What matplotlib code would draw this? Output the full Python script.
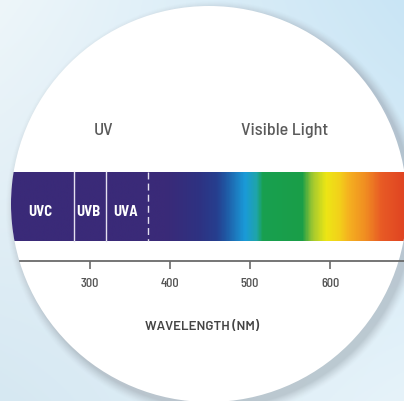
import numpy as np
import matplotlib
matplotlib.use("Agg")
import matplotlib.pyplot as plt
from matplotlib.colors import LinearSegmentedColormap, to_rgb
from matplotlib.patches import Ellipse

# ---- data ----
spectrum_nm = [187, 395, 437, 459, 471, 494, 509, 516, 566, 579, 596, 612, 625, 646, 666, 693]
spectrum_colors = ['#3a2a78', '#3a2a78', '#2e3282', '#263f8f', '#1f5aa5', '#1a9ad8',
                   '#1fa5a8', '#18a050', '#1a9e48', '#a0c830', '#ede615', '#f2d21a',
                   '#f5b020', '#f08c22', '#e85a25', '#e04522']
band_bounds = [280, 320]
uva_limit = 372
band_names = ['UVC', 'UVB', 'UVA']
band_label_nm = [238, 298, 344]
tick_nm = [300, 400, 500, 600]
region_titles = ['UV', 'Visible Light']
region_title_nm = [317, 543]

W, H = 404, 402
NM0, NM1 = 187.5, 692.5
px = (NM1 - NM0) / W  # nm per pixel
COND = ['Barlow Semi Condensed', 'DejaVu Sans']
NARROW = ['Barlow Condensed', 'DejaVu Sans']

fig = plt.figure(figsize=(W / 100, H / 100), dpi=100)

# background
bg = fig.add_axes([0, 0, 1, 1])
bg.set_xlim(0, W)
bg.set_ylim(H, 0)
bg.axis('off')
yy, xx = np.mgrid[0:1:200j, 0:1:200j]
tl, tr = np.array(to_rgb('#eef6fa')), np.array(to_rgb('#c9e5f5'))
bl, br = np.array(to_rgb('#d6e8f2')), np.array(to_rgb('#e6f3fa'))
img = ((1 - xx)[..., None] * (1 - yy)[..., None] * tl + xx[..., None] * (1 - yy)[..., None] * tr
       + (1 - xx)[..., None] * yy[..., None] * bl + xx[..., None] * yy[..., None] * br)
bg.imshow(img, extent=(0, W, H, 0), aspect='auto', zorder=0)

# main axes in wavelength units
ax = fig.add_axes([0, 0, 1, 1], facecolor='none')
ax.set_xlim(NM0, NM1)
ax.set_ylim(H, 0)
ax.set_axisbelow(False)

cx_px, cy_px, r_px = 209, 205, 198
cx = NM0 + cx_px * px
# soft shadow
for k, a in zip(range(10, 0, -1), np.linspace(0.015, 0.06, 10)):
    ax.add_patch(Ellipse((cx + 5 * px, cy_px + 5), 2 * (r_px + k) * px, 2 * (r_px + k),
                         facecolor='#7a8088', edgecolor='none', alpha=a, zorder=0.5))
circle = Ellipse((cx, cy_px), 2 * r_px * px, 2 * r_px, facecolor='white', edgecolor='none', zorder=1)
ax.add_patch(circle)

# spectrum bar
pos = [(v - spectrum_nm[0]) / (spectrum_nm[-1] - spectrum_nm[0]) for v in spectrum_nm]
cmap = LinearSegmentedColormap.from_list('spec', list(zip(pos, spectrum_colors)))
grad = np.linspace(spectrum_nm[0], spectrum_nm[-1], 600).reshape(1, -1)
im = ax.imshow(grad, extent=(spectrum_nm[0], spectrum_nm[-1], 242, 173), aspect='auto',
               cmap=cmap, vmin=spectrum_nm[0], vmax=spectrum_nm[-1], zorder=3,
               interpolation='bilinear')
im.set_clip_path(circle)

for b in band_bounds:
    ax.plot([b, b], [173, 242], color='#e4e0f0', lw=1.0, zorder=4)
ax.plot([uva_limit, uva_limit], [173, 242], color='#e4e0f0', lw=1.0, ls=(0, (5, 3)), zorder=4)

for name, x in zip(band_names, band_label_nm):
    ax.text(x, 212, name, color='white', fontsize=10.5, fontweight='bold', ha='center', va='center',
            family=COND, zorder=5)

for t, x in zip(region_titles, region_title_nm):
    ax.text(x, 131, t, color='#5a5a5a', fontsize=13, fontweight='medium', ha='center', va='center',
            family=COND, zorder=5)

# axis
for s in ['top', 'left', 'right']:
    ax.spines[s].set_visible(False)
ax.spines['bottom'].set_position(('data', 262))
ax.spines['bottom'].set_bounds(NM0 + 20 * px, NM1)
ax.spines['bottom'].set_color('#6a6a6a')
ax.spines['bottom'].set_linewidth(1.3)
ax.spines['bottom'].set_zorder(5)
ax.set_yticks([])
ax.set_xticks(tick_nm)
ax.set_xticklabels([str(t) for t in tick_nm], family=NARROW, fontweight='medium')
ax.tick_params(axis='x', direction='out', length=5.5, width=1.2, color='#6a6a6a',
               labelsize=10, labelcolor='#555555', pad=6)
ax.set_xlabel('WAVELENGTH (NM)', fontsize=9.5, color='#444444', fontweight='semibold',
              family=['Barlow', 'DejaVu Sans'], labelpad=22)

fig.savefig('out.png', dpi=100)
